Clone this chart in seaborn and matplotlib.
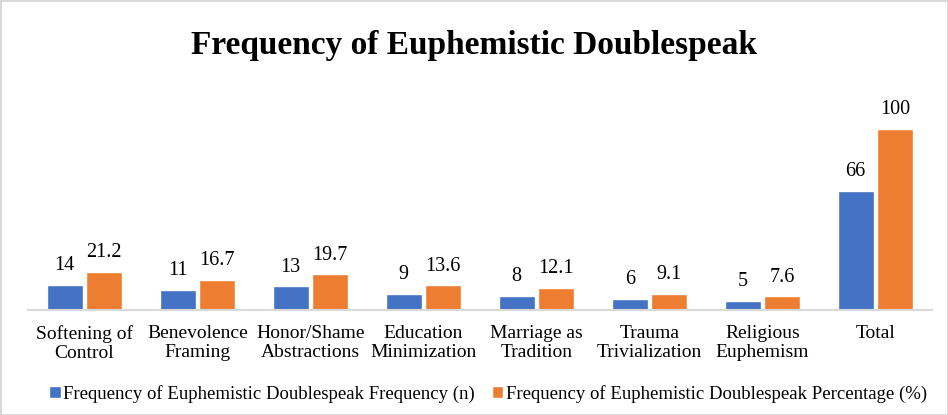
import matplotlib
matplotlib.use("Agg")
import matplotlib.pyplot as plt
import pandas as pd
import seaborn as sns

# ------------------- data

categories = [
    "Softening of\nControl",
    "Benevolence\nFraming",
    "Honor/Shame\nAbstractions",
    "Education\nMinimization",
    "Marriage as\nTradition",
    "Trauma\nTrivialization",
    "Religious\nEuphemism",
    "Total",
]
freq_n = [14, 11, 13, 9, 8, 6, 5, 66]
freq_pct = [21.2, 16.7, 19.7, 13.6, 12.1, 9.1, 7.6, 100]
freq_pct_labels = ["21.2", "16.7", "19.7", "13.6", "12.1", "9.1", "7.6", "100"]

series_n = "Frequency of Euphemistic Doublespeak Frequency (n)"
series_pct = "Frequency of Euphemistic Doublespeak Percentage (%)"

df = pd.DataFrame(
    {
        "category": categories * 2,
        "value": freq_n + freq_pct,
        "series": [series_n] * len(categories) + [series_pct] * len(categories),
    }
)

# ------------------- plot

sns.set_style("white")
plt.rcParams["font.family"] = ["Liberation Serif", "DejaVu Serif"]
plt.rcParams["text.color"] = "black"
plt.rcParams["xtick.color"] = "black"

fig = plt.figure(figsize=(9.48, 4.15), dpi=100)
fig.patch.set_edgecolor("#d9d9d9")
fig.patch.set_linewidth(2)
ax = fig.add_axes([28 / 948, 105 / 415, 904 / 948, 200 / 415])

sns.barplot(
    data=df,
    x="category",
    y="value",
    hue="series",
    palette=["#4472C4", "#ED7D31"],
    saturation=1,
    width=0.7,
    gap=0.1,
    ax=ax,
)

ax.set_ylim(0, 110.5)
ax.set_xlim(-0.5, len(categories) - 0.5)
ax.set_xlabel("")
ax.set_ylabel("")
ax.set_yticks([])
for side in ["top", "left", "right"]:
    ax.spines[side].set_visible(False)
ax.spines["bottom"].set_color("#d9d9d9")
ax.spines["bottom"].set_linewidth(1.5)
ax.tick_params(axis="x", length=0, pad=11, labelsize=14)
for lbl in ax.get_xticklabels():
    lbl.set_linespacing(1.15)

ax.bar_label(ax.containers[0], labels=[str(v) for v in freq_n], padding=7, fontsize=14.5)
ax.bar_label(ax.containers[1], labels=freq_pct_labels, padding=7, fontsize=14.5)

ax.get_legend().remove()
handles, labels = ax.get_legend_handles_labels()
fig.legend(
    handles,
    labels,
    loc="lower center",
    bbox_to_anchor=(0.515, -0.012),
    ncol=2,
    frameon=False,
    fontsize=13.5,
    handlelength=0.6,
    handleheight=0.6,
    handletextpad=0.15,
    columnspacing=0.9,
)

fig.text(0.5, 0.89, "Frequency of Euphemistic Doublespeak", ha="center", va="center",
         fontsize=24, fontweight="bold")

fig.savefig("out.png", dpi=100)
